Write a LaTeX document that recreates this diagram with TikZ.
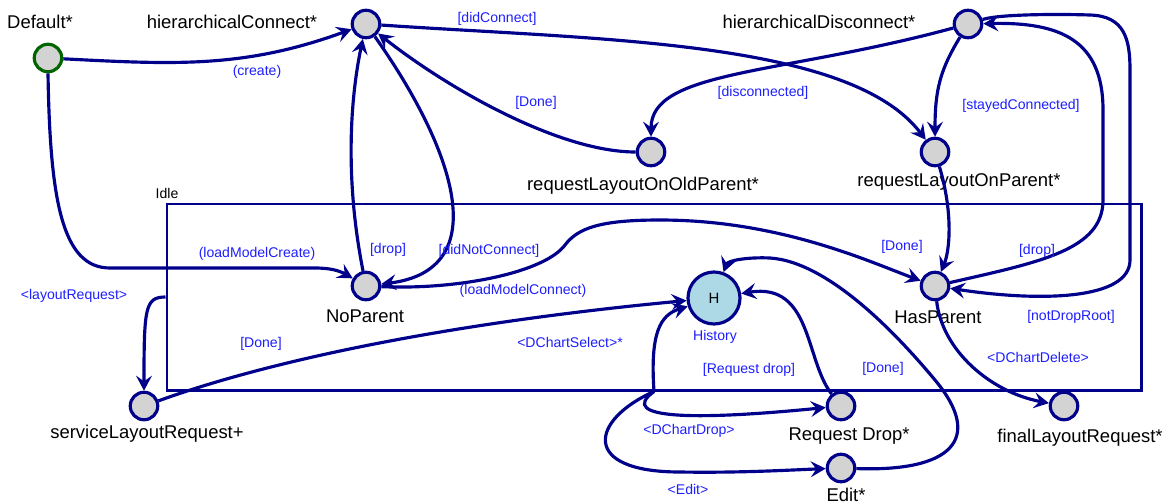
\documentclass[tikz,border=0pt]{standalone}
\usepackage{fontspec}
\setmainfont{Liberation Sans}
\usetikzlibrary{arrows.meta}

\definecolor{trblue}{RGB}{0,0,139}
\definecolor{lblblue}{RGB}{30,30,255}
\definecolor{stgray}{RGB}{211,211,211}
\definecolor{histblue}{RGB}{173,216,230}
\definecolor{initgreen}{RGB}{0,100,0}

\begin{document}
\begin{tikzpicture}[
		stnode/.style={circle, draw=trblue, fill=stgray, line width=1.8pt, minimum size=0.55cm, inner sep=0pt},
		stname/.style={font=\fontsize{10.5}{12}\selectfont, inner sep=0pt},
		lbl/.style={text=lblblue, font=\fontsize{8}{9.6}\selectfont, inner sep=0pt},
		trans/.style={draw=trblue, line width=1.8pt, -{Stealth[length=8.5pt,width=9pt,inset=3.2pt]}}
	]
				\useasboundingbox (0,0) rectangle (23.36,10.06);

				% etat composite Idle
				\node[draw=trblue, line width=1.7pt, minimum width=19.48cm, minimum height=3.72cm, inner sep=0pt] (Idle) at (13.08,4.12) {};
				\node[lbl, text=black] (IdleName) at (3.34,6.2) {Idle};

				% etats
				\node[stnode, draw=initgreen] (Default) at (0.96,8.90) {};
				\node[stnode] (hConnect) at (7.32,9.58) {};
				\node[stnode] (hDisconnect) at (19.36,9.58) {};
				\node[stnode] (layoutOld) at (13.02,7.02) {};
				\node[stnode] (layoutParent) at (18.70,7.02) {};
				\node[stnode] (NoParent) at (7.32,4.34) {};
				\node[stnode] (HasParent) at (18.70,4.34) {};
				\node[stnode, fill=histblue, minimum size=1.04cm, font=\fontsize{8.5}{10}\selectfont] (History) at (14.28,4.10) {H};
				\node[stnode] (serviceLayout) at (2.88,1.94) {};
				\node[stnode] (RequestDrop) at (16.82,1.94) {};
				\node[stnode] (finalLayout) at (21.28,1.94) {};
				\node[stnode] (Edit) at (16.82,0.70) {};

				% noms des etats
				\node[stname] (DefaultName) at (0.80,9.62) {Default*};
				\node[stname] (hConnectName) at (4.64,9.62) {hierarchicalConnect*};
				\node[stname] (hDisconnectName) at (16.38,9.62) {hierarchicalDisconnect*};
				\node[stname] (layoutOldName) at (12.86,6.34) {requestLayoutOnOldParent*};
				\node[stname] (layoutParentName) at (19.18,6.42) {requestLayoutOnParent*};
				\node[stname] (NoParentName) at (7.30,3.74) {NoParent};
				\node[stname] (HasParentName) at (18.76,3.72) {HasParent};
				\node[lbl] (HistoryName) at (14.30,3.32) {History};
				\node[stname] (serviceLayoutName) at (2.94,1.38) {serviceLayoutRequest+};
				\node[stname] (RequestDropName) at (16.98,1.34) {Request Drop*};
				\node[stname] (finalLayoutName) at (21.60,1.30) {finalLayoutRequest*};
				\node[stname] (EditName) at (16.92,0.16) {Edit*};

				% transition (create)
				\draw[trans] (Default) to[out=-3, in=200] (hConnect);
				\node[lbl] (lCreate) at (5.14,8.62) {(create)};

				% transition (loadModelCreate)
				\draw[trans] (Default.south) .. controls (1.0,6.06) and (1.24,4.70) .. (2.2,4.70) -- (6.3,4.70) to[out=0, in=150] (NoParent);
				\node[lbl] (lLoadCreate) at (5.14,4.98) {(loadModelCreate)};

				% transition [didConnect]
				\draw[trans] (hConnect) .. controls (12.0,9.26) and (17.0,9.26) .. (layoutParent);
				\node[lbl] (lDidConnect) at (9.94,9.68) {[didConnect]};

				% transition [disconnected]
				\draw[trans] (hDisconnect) .. controls (15.6,8.56) and (13.02,8.66) .. (layoutOld);
				\node[lbl] (lDisconnected) at (15.26,8.20) {[disconnected]};

				% transition [stayedConnected]
				\draw[trans] (hDisconnect) .. controls (18.80,8.66) and (18.70,8.26) .. (layoutParent);
				\node[lbl] (lStayed) at (20.42,7.94) {[stayedConnected]};

				% transition [Done] vers hierarchicalConnect
				\draw[trans] (layoutOld) .. controls (11.2,7.02) and (9.0,8.26) .. (hConnect);
				\node[lbl] (lDoneOld) at (10.72,8.00) {[Done]};

				% transition [drop] depuis NoParent
				\draw[trans] (NoParent) .. controls (6.9,6.46) and (7.0,8.06) .. (hConnect);
				\node[lbl] (lDropNo) at (7.76,5.06) {[drop]};

				% transition [didNotConnect]
				\draw[trans] (hConnect) .. controls (9.1,7.06) and (9.9,4.66) .. (NoParent);
				\node[lbl] (lDidNot) at (9.78,5.04) {[didNotConnect]};

				% transition (loadModelConnect)
				\draw[trans] (NoParent) .. controls (9.2,4.26) and (10.9,4.62) .. (11.3,5.16)
					.. controls (11.56,5.50) and (12.0,5.66) .. (13.2,5.66)
					.. controls (15.6,5.66) and (17.4,4.82) .. (HasParent);
				\node[lbl] (lLoadConnect) at (10.46,4.24) {(loadModelConnect)};

				% transition [Done] vers HasParent
				\draw[trans] (layoutParent) .. controls (19.06,5.82) and (19.0,5.06) .. (HasParent);
				\node[lbl] (lDoneParent) at (18.04,5.12) {[Done]};

				% transition [drop] depuis HasParent
				\draw[trans] (HasParent) .. controls (20.8,4.82) and (22.06,5.06) .. (22.06,6.06) -- (22.06,7.86)
					.. controls (22.06,9.26) and (21.2,9.62) .. (hDisconnect);
				\node[lbl] (lDropHas) at (20.74,5.04) {[drop]};

				% transition [notDropRoot]
				\draw[trans] (hDisconnect) .. controls (20.0,9.78) and (21.2,9.78) .. (21.8,9.76)
					.. controls (22.5,9.74) and (22.6,9.26) .. (22.6,8.66) -- (22.6,4.86)
					.. controls (22.6,4.06) and (20.8,4.02) .. (HasParent);
				\node[lbl] (lNotDropRoot) at (21.42,3.72) {[notDropRoot]};

				% transition <DChartDelete>
				\draw[trans] (HasParent) .. controls (18.84,3.06) and (19.8,2.22) .. (finalLayout);
				\node[lbl] (lDelete) at (20.76,2.92) {<DChartDelete>};

				% transition <layoutRequest>
				\draw[trans] (Idle.west) .. controls (2.9,4.12) and (2.88,3.9) .. (serviceLayout);
				\node[lbl] (lLayoutReq) at (1.48,4.14) {<layoutRequest>};

				% transition [Done] vers History
				\draw[trans] (serviceLayout) .. controls (6.0,3.06) and (10.0,3.70) .. (History);
				\node[lbl] (lDoneService) at (5.22,3.18) {[Done]};

				% transition <DChartSelect>*
				\draw[trans] (Idle.south) .. controls (13.0,3.40) and (13.2,3.76) .. (History);
				\node[lbl] (lSelect) at (11.40,3.22) {<DChartSelect>*};

				% transition <DChartDrop>
				\draw[trans] (Idle.south) .. controls (12.3,1.66) and (14.0,1.66) .. (RequestDrop);
				\node[lbl] (lChartDrop) at (13.78,1.44) {<DChartDrop>};

				% transition <Edit>
				\draw[trans] (Idle.south) .. controls (11.8,1.66) and (11.6,0.62) .. (13.6,0.62)
					.. controls (14.8,0.60) and (15.8,0.66) .. (Edit);
				\node[lbl] (lEdit) at (13.76,0.28) {<Edit>};

				% transition [Request drop]
				\draw[trans] (RequestDrop) .. controls (16.1,2.86) and (16.24,4.42) .. (History);
				\node[lbl] (lReqDrop) at (14.98,2.66) {[Request drop]};

				% transition [Done] depuis Edit
				\draw[trans] (Edit) .. controls (19.0,0.62) and (19.7,1.26) .. (18.7,2.46)
					.. controls (18.0,3.30) and (16.6,4.82) .. (15.4,4.90)
					.. controls (15.0,4.92) and (14.56,4.86) .. (History);
				\node[lbl] (lDoneEdit) at (17.66,2.68) {[Done]};
			\end{tikzpicture}
\end{document}
